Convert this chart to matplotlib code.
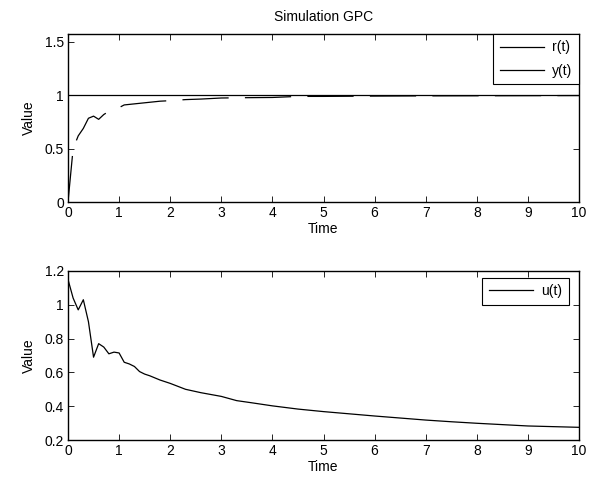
import numpy as np
import matplotlib.pyplot as plt
from matplotlib.lines import Line2D

plt.rcParams['font.family'] = ['Liberation Sans', 'DejaVu Sans']
plt.rcParams['font.size'] = 10

# Datos
t_ref = [0, 10]
r_ref = [1, 1]

t_y = [0, 0.1, 0.2, 0.3, 0.4, 0.5, 0.6, 0.7, 0.8, 0.9, 1.0, 1.1, 1.2, 1.4, 1.6,
       1.8, 2.0, 2.3, 2.6, 3.0, 3.5, 4.0, 4.5, 5.0, 6.0, 7.0, 8.0, 9.0, 10.0]
y_out = [0, 0.50, 0.62, 0.69, 0.785, 0.805, 0.775, 0.82, 0.85, 0.87, 0.885, 0.91,
         0.915, 0.925, 0.935, 0.945, 0.95, 0.96, 0.965, 0.975, 0.978, 0.98, 0.99,
         0.99, 0.993, 0.995, 0.996, 0.997, 0.998]

t_u = [0, 0.1, 0.2, 0.3, 0.4, 0.5, 0.6, 0.7, 0.8, 0.9, 1.0, 1.1, 1.2, 1.3, 1.4,
       1.5, 1.6, 1.8, 2.0, 2.3, 2.6, 3.0, 3.3, 3.6, 4.0, 4.5, 5.0, 5.5, 6.0, 6.5,
       7.0, 7.5, 8.0, 8.5, 9.0, 9.5, 10.0]
u_in = [1.15, 1.04, 0.97, 1.03, 0.90, 0.69, 0.77, 0.75, 0.71, 0.72, 0.715, 0.66,
        0.65, 0.635, 0.605, 0.59, 0.58, 0.555, 0.535, 0.50, 0.48, 0.458, 0.433,
        0.42, 0.402, 0.383, 0.368, 0.355, 0.342, 0.33, 0.318, 0.308, 0.299,
        0.291, 0.283, 0.279, 0.275]


def estilo_matlab(ax):
    '''Ejes con ticks hacia adentro en los cuatro lados'''
    ax.tick_params(direction='in', top=True, right=True, length=4, width=0.6, pad=3)
    for s in ax.spines.values():
        s.set_linewidth(1.0)
    ax.set_xlim(0, 10)
    ax.set_xticks(range(0, 11))


fig = plt.figure(figsize=(6.03, 4.79), dpi=100)
ax1 = fig.add_axes([68/603, 1 - 202/479, 511/603, 168/479])
ax2 = fig.add_axes([68/603, 1 - 440/479, 511/603, 169/479])

# Grafica superior
ax1.plot(t_ref, r_ref, color='black', lw=0.9)
ax1.plot(t_y, y_out, color='black', lw=0.9, linestyle=(0, (37, 13)))
estilo_matlab(ax1)
ax1.set_ylim(0, 1.575)
ax1.set_yticks([0, 0.5, 1, 1.5])
ax1.set_yticklabels(['0', '0.5', '1', '1.5'])
ax1.set_xlabel('Time', labelpad=1)
ax1.set_ylabel('Value', labelpad=6)
ax1.set_title('Simulation GPC', fontsize=10, pad=9)
proxies = [Line2D([], [], color='black', lw=0.9), Line2D([], [], color='black', lw=0.9)]
leg1 = ax1.legend(proxies, ['r(t)', 'y(t)'], loc='upper right', borderaxespad=0,
                  fancybox=False, edgecolor='black', handlelength=3.2,
                  handletextpad=0.6, framealpha=1, borderpad=0.46,
                  labelspacing=0.7)
leg1.get_frame().set_linewidth(0.8)

# Grafica inferior
ax2.plot(t_u, u_in, color='black', lw=0.9, label='u(t)')
estilo_matlab(ax2)
ax2.set_ylim(0.2, 1.2)
ax2.set_yticks([0.2, 0.4, 0.6, 0.8, 1.0, 1.2])
ax2.set_yticklabels(['0.2', '0.4', '0.6', '0.8', '1', '1.2'])
ax2.set_xlabel('Time', labelpad=1)
ax2.set_ylabel('Value', labelpad=6)
leg2 = ax2.legend(loc='upper right', fancybox=False, edgecolor='black',
                  handlelength=3.2, handletextpad=0.6, framealpha=1,
                  borderpad=0.46, borderaxespad=0,
                  bbox_to_anchor=(0.98, 0.959))
leg2.get_frame().set_linewidth(0.8)

plt.savefig('out.png', dpi=100)
